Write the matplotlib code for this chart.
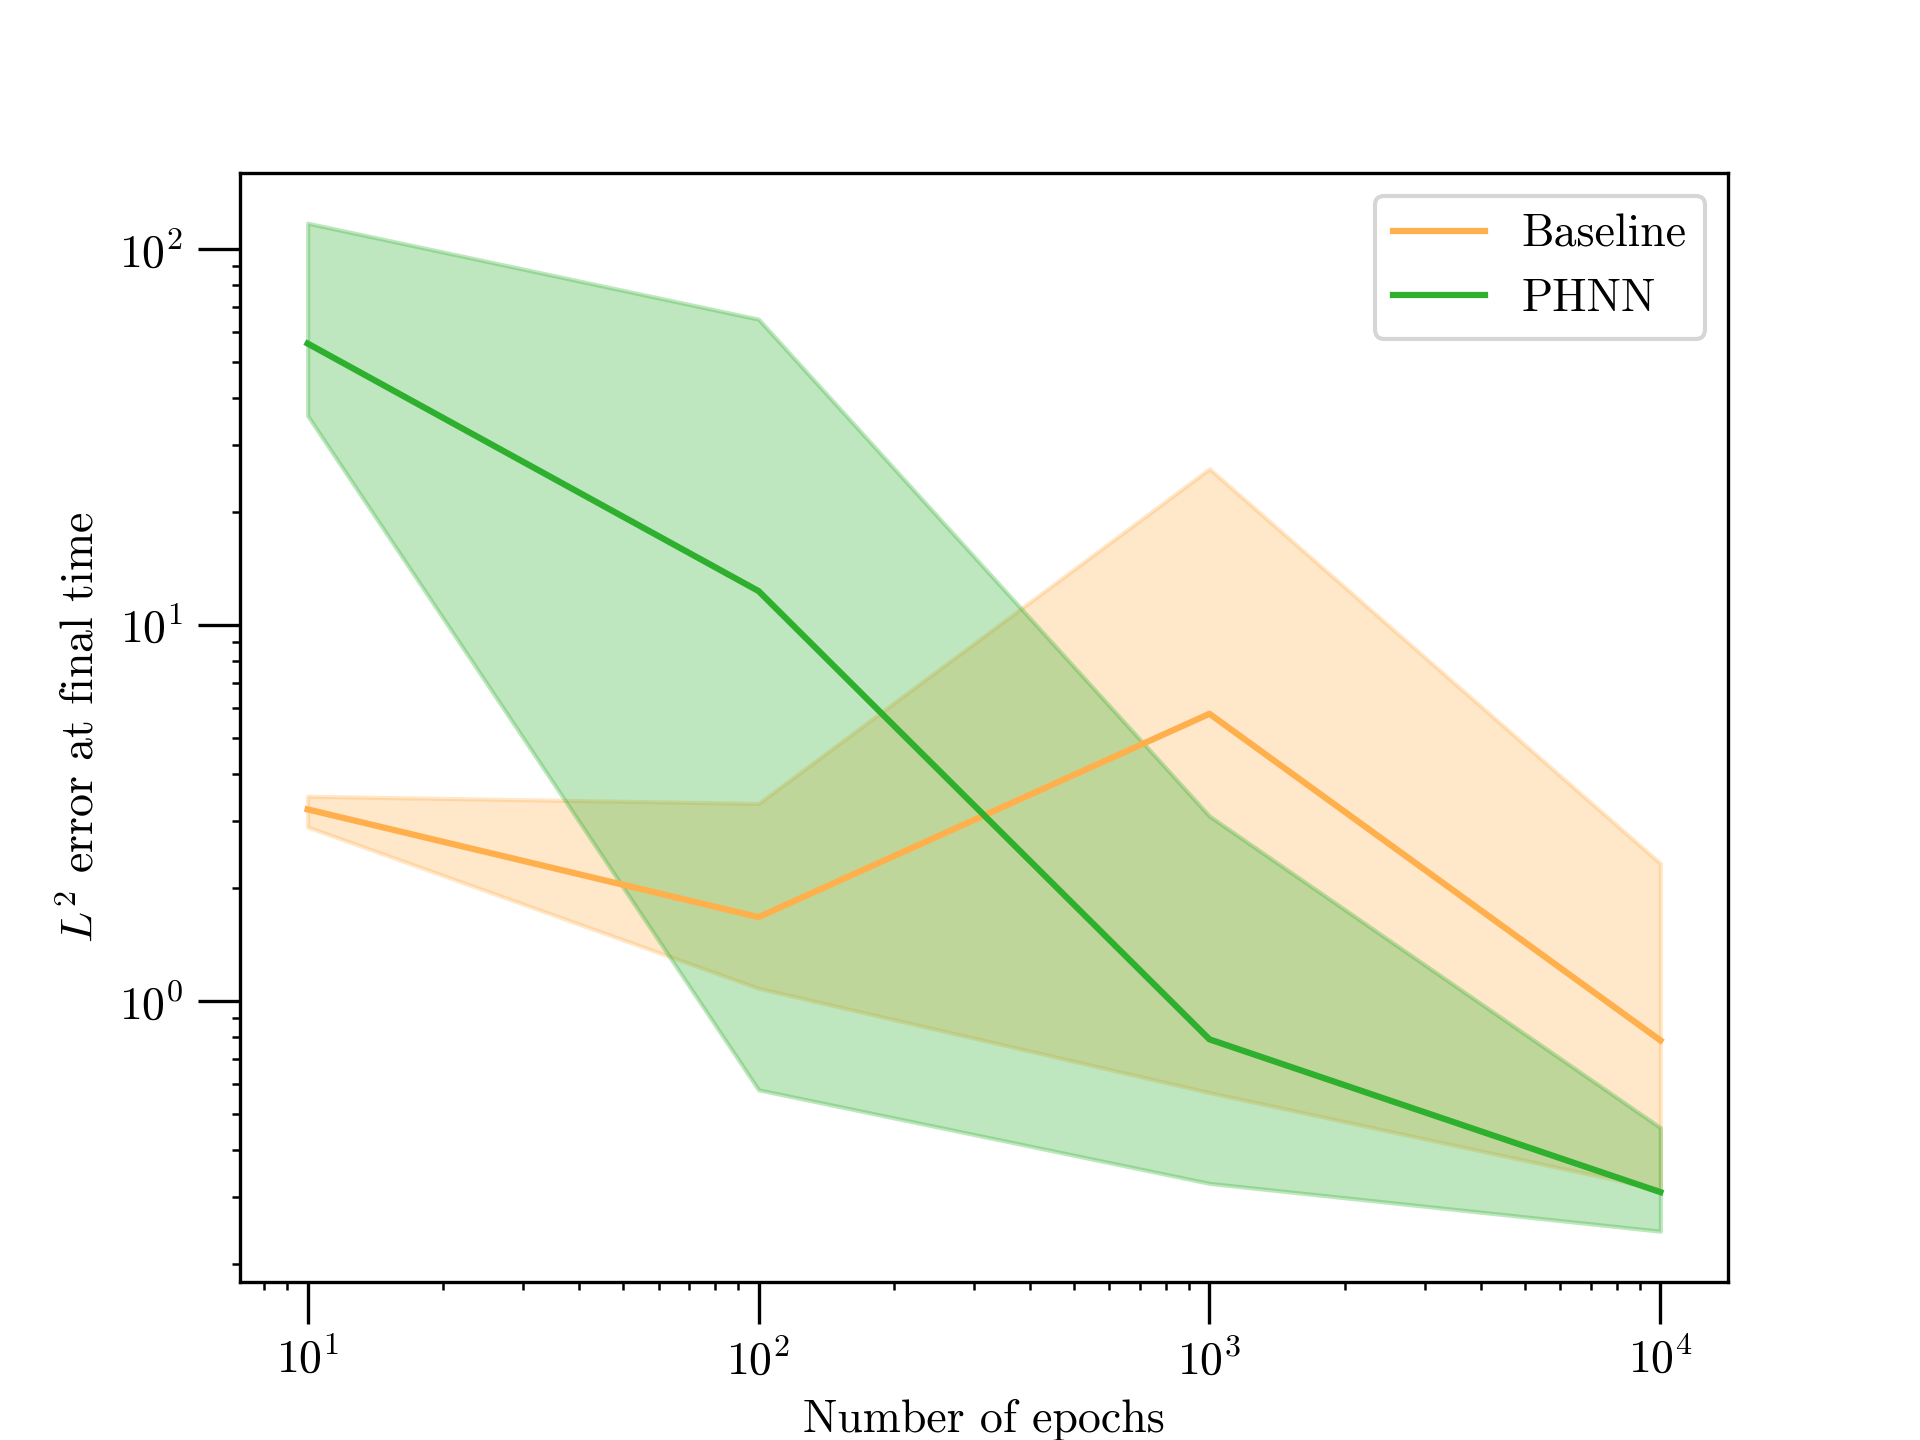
import matplotlib
matplotlib.use("Agg")
import matplotlib.pyplot as plt

plt.rcParams['font.family'] = 'serif'
plt.rcParams['font.serif'] = ['cmr10', 'DejaVu Serif']
plt.rcParams['mathtext.fontset'] = 'cm'
plt.rcParams['axes.formatter.use_mathtext'] = True
plt.rcParams['font.size'] = 11

epochs = [10, 100, 1000, 10000]

baseline_mean = [3.23, 1.67, 5.8, 0.785]
baseline_upper = [3.5, 3.35, 26, 2.32]
baseline_lower = [2.9, 1.08, 0.57, 0.315]

phnn_mean = [56, 12.3, 0.79, 0.31]
phnn_upper = [117, 65, 3.1, 0.46]
phnn_lower = [36, 0.58, 0.327, 0.244]

orange = '#ffb04c'
green = '#2eb02e'

fig, ax = plt.subplots(figsize=(6.4, 4.8), dpi=300)

ax.plot(epochs, baseline_mean, color=orange, lw=1.5, label='Baseline')
ax.fill_between(epochs, baseline_lower, baseline_upper, color=orange, alpha=0.3)
ax.plot(epochs, phnn_mean, color=green, lw=1.5, label='PHNN')
ax.fill_between(epochs, phnn_lower, phnn_upper, color=green, alpha=0.3)

ax.set_xscale('log')
ax.set_yscale('log')
ax.tick_params(which='major', length=10)
ax.tick_params(which='minor', length=2)

ax.set_xlabel('Number of epochs')
ax.set_ylabel(r'$L^2$ error at final time')
ax.legend(loc='upper right')

plt.savefig('out.png', dpi=300)
